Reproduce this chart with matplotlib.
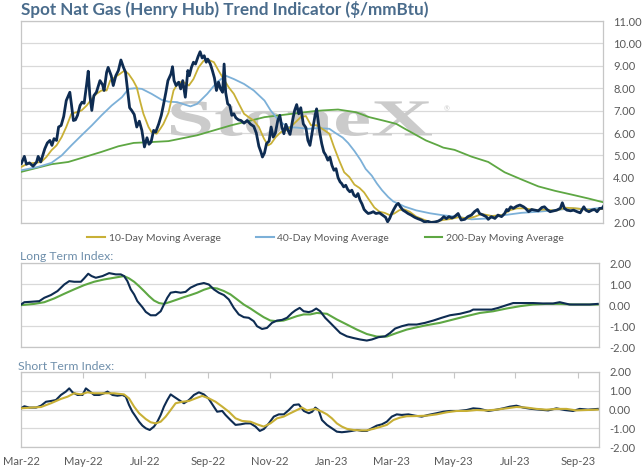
import numpy as np
import pandas as pd
import matplotlib
matplotlib.use("Agg")
import matplotlib.pyplot as plt
import matplotlib.dates as mdates
from matplotlib.ticker import FormatStrFormatter
from matplotlib.textpath import TextPath
from matplotlib.patches import PathPatch
from matplotlib.font_manager import FontProperties
from matplotlib.lines import Line2D
from matplotlib import transforms

plt.rcParams['font.family'] = ['Lato', 'DejaVu Sans']
plt.rcParams['axes.unicode_minus'] = False

# ---- data (days counted from 1 Mar 2022) ----
start = pd.Timestamp("2022-03-01")

spot_days = [0, 3, 5, 8, 11.5, 15, 16.5, 19, 23, 25.5, 28, 30, 32, 34.5, 36.5, 39, 41.5, 44, 47.5, 49,
             51, 53, 55, 57.5, 59.5, 61.5, 64, 65.5, 67, 69, 71, 73.5, 77, 79.5, 81, 83.5, 85, 88, 90, 92.5,
             95, 97.5, 100, 102, 104, 106, 108, 110.5, 113, 115.5, 118, 120.5, 123, 125, 127, 129.5, 131.5,
             134.5, 137, 139, 141.5, 143.5, 146.5, 148, 149.5, 151.5, 154, 156, 158, 160.5, 163, 164.5,
             166.5, 168.5, 170.5, 173, 175, 177, 179, 181, 182.5, 185, 187, 189, 191, 193, 195, 197, 198.5,
             200, 202, 204, 206, 208, 210, 212.5, 215, 218, 221, 224.5, 227.5, 230, 232.5, 234.5, 236, 238,
             240, 242.5, 244.5, 246.5, 248.5, 251, 253, 255, 257, 259, 261, 263, 265.5, 267.5, 269.5, 271.5,
             273.5, 276, 278.5, 280.5, 282.5, 285.5, 287.5, 289, 290.5, 292, 294, 296, 298, 300, 302, 304,
             306, 308, 310, 312, 313.5, 315.5, 317.5, 319.5, 321.5, 323.5, 325.5, 327.5, 329.5, 331.5, 333.5,
             335.5, 337.5, 339.5, 342, 344.5, 347, 350.5, 353.5, 356.5, 358.5, 360.5, 362.5, 364.5, 367, 369,
             371, 373.5, 376, 378.5, 381.5, 385, 388, 391.5, 394.5, 398, 401, 404.5, 408, 411, 413.5, 416,
             418.5, 421.5, 424, 427.5, 430.5, 434, 437, 440.5, 443.5, 446.5, 448.5, 452, 455, 457, 460, 463.5,
             466.5, 470, 473, 475, 476.5, 479, 481.5, 485, 488, 491.5, 493.5, 496.5, 499.5, 503, 506, 509.5,
             512, 514.5, 517.5, 521, 524, 527.5, 529.5, 531.5, 534, 537.5, 540.5, 544, 547, 550.5, 552.5,
             555.5, 558.5, 561, 563.5, 566, 568.5, 570.5]
spot_vals = [4.64, 4.96, 4.61, 4.67, 4.52, 4.71, 4.96, 4.71, 5.30, 5.56, 5.67, 5.45, 5.75, 5.67, 6.27, 6.34,
             6.74, 7.45, 7.82, 7.30, 6.56, 6.59, 6.79, 7.23, 7.38, 7.33, 8.19, 8.76, 7.72, 7.01, 7.67, 7.82,
             8.34, 8.16, 7.90, 8.71, 8.93, 8.56, 8.12, 8.56, 8.79, 9.26, 8.93, 8.71, 7.90, 7.13, 7.01, 6.83,
             6.27, 6.53, 6.12, 5.38, 5.79, 5.50, 5.60, 6.12, 6.04, 6.41, 6.79, 7.23, 7.82, 8.34, 8.64, 8.96,
             8.34, 8.12, 8.27, 7.97, 8.34, 7.60, 8.79, 8.56, 8.93, 9.16, 9.08, 9.41, 9.63, 9.35, 9.45, 9.16,
             9.30, 9.08, 8.79, 8.46, 7.90, 8.27, 7.97, 7.82, 9.08, 7.82, 7.30, 7.23, 6.79, 6.86, 6.68, 6.59,
             6.56, 6.44, 6.56, 6.39, 6.30, 6.00, 5.41, 5.16, 4.93, 5.11, 5.53, 5.64, 6.27, 5.82, 5.97, 6.56,
             6.79, 6.27, 5.97, 6.39, 6.12, 5.94, 6.56, 7.01, 7.27, 6.86, 7.13, 6.41, 6.24, 5.67, 5.45, 6.27,
             6.79, 7.08, 6.56, 6.04, 5.53, 5.16, 5.01, 4.79, 4.93, 4.56, 4.34, 4.41, 4.01, 3.82, 3.75, 3.60,
             3.67, 3.48, 3.38, 3.45, 3.23, 3.16, 3.30, 3.01, 2.83, 2.59, 2.49, 2.41, 2.44, 2.49, 2.41, 2.44,
             2.34, 2.24, 2.04, 2.19, 2.41, 2.59, 2.79, 2.86, 2.71, 2.56, 2.49, 2.41, 2.34, 2.24, 2.18, 2.12,
             2.04, 2.06, 2.01, 2.03, 2.07, 2.15, 2.27, 2.18, 2.27, 2.21, 2.27, 2.41, 2.12, 2.15, 2.27, 2.34,
             2.49, 2.59, 2.41, 2.34, 2.27, 2.15, 2.27, 2.19, 2.34, 2.27, 2.41, 2.59, 2.53, 2.71, 2.64, 2.74,
             2.79, 2.71, 2.64, 2.49, 2.59, 2.56, 2.53, 2.68, 2.71, 2.59, 2.49, 2.53, 2.56, 2.64, 2.89, 2.64,
             2.56, 2.53, 2.56, 2.49, 2.44, 2.71, 2.56, 2.49, 2.56, 2.59, 2.49, 2.64, 2.64, 2.79]

ma10_days = [0, 6.5, 13, 19.5, 24.5, 29.5, 34.5, 39.5, 44, 49, 54, 59, 64, 69, 73.5, 78.5, 83.5, 87, 91.5,
             96.5, 101, 105, 109.5, 113, 116.5, 119.5, 124.5, 127.5, 132.5, 136, 139, 144, 149, 154, 159,
             164, 168.5, 173.5, 178.5, 183.5, 188.5, 193, 198, 203, 208, 213, 218, 222.5, 227.5, 232.5,
             237.5, 241.5, 244.5, 249, 254, 259, 263.5, 268.5, 273.5, 278.5, 283.5, 289, 294.5, 301.5, 306,
             311, 316, 321, 326, 331, 335.5, 340.5, 345.5, 350.5, 355.5, 360.5, 365, 370, 375, 380, 386.5,
             393, 399.5, 406, 412.5, 419.5, 427.5, 437.5, 444, 450.5, 460.5, 470.5, 478.5, 485, 493, 503,
             513, 522.5, 532.5, 542.5, 552, 562, 570.5]
ma10_vals = [4.49, 4.64, 4.67, 4.71, 4.93, 5.23, 5.45, 5.82, 6.27, 6.86, 6.93, 7.01, 7.23, 7.53, 7.75, 7.90,
             7.90, 8.34, 8.49, 8.64, 8.79, 8.64, 8.34, 8.04, 7.38, 6.86, 6.27, 6.04, 5.97, 6.19, 6.40, 6.90,
             7.90, 8.27, 8.27, 8.12, 8.41, 8.93, 9.23, 9.26, 9.16, 8.79, 8.41, 8.04, 7.75, 7.30, 6.86, 6.71,
             6.56, 6.27, 5.75, 5.45, 5.53, 5.82, 6.04, 6.12, 6.27, 6.49, 6.71, 6.76, 6.35, 6.35, 6.19, 5.97,
             5.38, 4.79, 4.25, 4.04, 3.70, 3.55, 3.35, 3.01, 2.68, 2.49, 2.44, 2.34, 2.41, 2.56, 2.59, 2.49,
             2.27, 2.15, 2.04, 2.04, 2.12, 2.16, 2.24, 2.19, 2.27, 2.39, 2.30, 2.34, 2.56, 2.64, 2.64, 2.56,
             2.59, 2.53, 2.67, 2.64, 2.59, 2.56, 2.64]

ma40_days = [0, 16.5, 29.5, 39.5, 49, 59, 69, 78.5, 88.5, 98.5, 105, 111.5, 118, 127.5, 137.5, 144, 152.5,
             165.5, 172, 182, 191.5, 200, 208, 218, 227.5, 238, 244, 252, 260.5, 270.5, 280.5, 291.5, 301.5,
             307.5, 314.5, 320, 326, 332, 337, 343, 348, 353, 359, 364, 369, 375, 386.5, 400, 413, 429,
             440.5, 457, 473, 489.5, 506, 522.5, 538.5, 555, 570.5]
ma40_vals = [4.34, 4.49, 4.67, 5.00, 5.45, 5.90, 6.34, 6.79, 7.23, 7.60, 7.97, 8.00, 7.97, 7.75, 7.48, 7.40,
             7.38, 7.19, 7.30, 7.75, 8.27, 8.56, 8.41, 8.19, 7.90, 7.45, 7.01, 6.56, 6.27, 6.24, 6.19, 6.22,
             6.19, 6.00, 5.80, 5.55, 5.20, 4.80, 4.40, 4.10, 3.75, 3.45, 3.15, 2.95, 2.85, 2.72, 2.55, 2.42,
             2.33, 2.25, 2.15, 2.19, 2.34, 2.44, 2.49, 2.56, 2.64, 2.60, 2.68]

ma200_days = [0, 29.5, 46, 62, 78.5, 95, 110, 128, 144, 172, 205, 238, 270.5, 287, 295, 310, 327.5, 340.5,
              354, 367, 375, 396, 408, 413, 424, 440.5, 457, 473, 489.5, 506, 522.5, 539, 555, 570.5]
ma200_vals = [4.27, 4.61, 4.71, 4.93, 5.16, 5.41, 5.56, 5.60, 5.64, 5.90, 6.34, 6.71, 6.89, 6.98, 7.01,
              7.05, 6.93, 6.71, 6.56, 6.41, 6.20, 5.67, 5.45, 5.35, 5.25, 4.95, 4.71, 4.25, 3.93, 3.62,
              3.42, 3.25, 3.08, 2.90]

lt_days = [0, 3.3, 9.9, 18, 23, 29.5, 36, 42.6, 47.5, 52.4, 59, 62.2, 66.2, 69.5, 73.7, 80.3, 86.8, 93.4,
           98.3, 101.5, 104.8, 108.1, 111.4, 114.6, 119.6, 122.9, 127.7, 132.7, 137.6, 140.8, 144.1, 147.4,
           152.3, 157.2, 162.1, 167, 173.6, 180.1, 185, 189.9, 194.8, 199.8, 204.7, 209.6, 214.5, 219.4,
           224.3, 229.2, 232.5, 237.4, 242.3, 247.2, 252.2, 257.1, 262, 266.9, 270.2, 274.5, 278.4, 283.4,
           286.5, 290.8, 294.7, 299.6, 304.6, 309.5, 314.4, 321, 327.5, 334.1, 340.6, 345.5, 352.1, 358.6,
           363.5, 368.5, 375, 381.6, 389.8, 398, 406.1, 414.3, 422.5, 432.3, 442.2, 445.4, 455.3, 463.5,
           470, 478.2, 484.8, 494.6, 504.4, 514.2, 524.1, 530.6, 540.4, 550.3, 560.1, 568]
lt_vals = [0.03, 0.14, 0.16, 0.19, 0.35, 0.48, 0.67, 0.98, 1.14, 1.11, 1.11, 1.27, 1.49, 1.38, 1.30, 1.38,
           1.52, 1.46, 1.46, 1.38, 1.14, 0.75, 0.51, 0.19, -0.10, -0.32, -0.48, -0.48, -0.29, 0.03, 0.35,
           0.59, 0.63, 0.59, 0.63, 0.83, 0.98, 1.05, 0.98, 0.75, 0.59, 0.48, 0.27, -0.13, -0.44, -0.57,
           -0.60, -0.76, -1.00, -1.13, -1.08, -0.84, -0.73, -0.70, -0.60, -0.37, -0.25, -0.13, -0.29, -0.33,
           -0.29, -0.16, -0.29, -0.60, -0.84, -1.08, -1.32, -1.48, -1.56, -1.63, -1.68, -1.63, -1.52, -1.48,
           -1.32, -1.11, -1.00, -0.92, -0.92, -0.84, -0.73, -0.60, -0.48, -0.41, -0.29, -0.21, -0.21, -0.21,
           -0.13, 0.00, 0.10, 0.10, 0.10, 0.08, 0.08, 0.14, 0.03, 0.03, 0.03, 0.06]

lt_sig_days = [0, 13.1, 23, 32.8, 42.6, 52.4, 62.2, 72, 81.9, 91.7, 101.5, 106.4, 111.4, 116.3, 121.2,
               126.1, 131, 135.9, 140.8, 147.4, 154, 160.5, 167, 173.6, 180.1, 186.7, 193.2, 199.8, 206.3,
               212.9, 219.4, 226, 232.5, 239, 245.6, 252.2, 258.7, 265.3, 271.8, 278.4, 284.9, 291.4, 301.3,
               311.1, 321, 330.8, 340.6, 350.4, 360.3, 370.1, 379.9, 389.8, 399.6, 412.7, 425.8, 438.9, 452,
               465.1, 478.2, 491.3, 504.4, 517.5, 530.6, 543.7, 556.8, 568]
lt_sig_vals = [0.00, 0.06, 0.14, 0.32, 0.54, 0.75, 0.95, 1.11, 1.22, 1.30, 1.38, 1.27, 1.11, 0.90, 0.67,
               0.43, 0.22, 0.10, 0.06, 0.16, 0.27, 0.38, 0.48, 0.59, 0.73, 0.83, 0.79, 0.67, 0.51, 0.27,
               0.03, -0.16, -0.37, -0.57, -0.73, -0.76, -0.73, -0.63, -0.52, -0.44, -0.44, -0.37, -0.41,
               -0.68, -0.92, -1.16, -1.37, -1.49, -1.49, -1.32, -1.16, -1.05, -0.95, -0.84, -0.68, -0.52,
               -0.37, -0.29, -0.16, -0.05, 0.03, 0.06, 0.06, 0.03, 0.03, 0.03]

st_days = [0, 3.3, 8.2, 14.8, 19.7, 24.6, 29.5, 34.4, 39.3, 44.2, 47.5, 50.8, 55.7, 60.6, 63.9, 67.2, 72,
           77, 81.9, 85.2, 90.1, 95, 99.9, 103.2, 106.4, 109.7, 113, 116.3, 119.6, 122.9, 126.8, 131, 134.3,
           137.6, 140.8, 144.1, 147.4, 150.6, 155.6, 160.5, 165.4, 170.3, 175.2, 180.1, 185, 189.9, 193.2,
           198.2, 201.4, 206.3, 211.3, 216.2, 221.1, 226, 231, 235.2, 239.2, 244.1, 249, 253.9, 258.9, 263.8,
           268.7, 273.6, 278.6, 283.5, 286.8, 289.9, 293.1, 296.4, 301.3, 306.2, 311.1, 316, 321, 325.9,
           330.8, 335.7, 340.6, 345.5, 350.4, 355.4, 360.3, 365.2, 370.1, 375, 381.6, 388.1, 394.7, 401.2,
           409.4, 416, 422.5, 430.7, 438.9, 445.4, 452, 460.2, 468.4, 474.9, 481.5, 488, 494.6, 502.8, 511,
           519.2, 527.4, 535.6, 543.7, 550.3, 558.5, 568]
st_vals = [0.07, 0.18, 0.11, 0.11, 0.21, 0.42, 0.46, 0.51, 0.78, 0.96, 1.13, 0.92, 0.78, 0.78, 1.13, 0.99,
           0.78, 0.78, 0.87, 0.96, 0.78, 0.74, 0.78, 0.69, 0.25, -0.11, -0.37, -0.64, -0.85, -0.99, -1.08,
           -0.90, -0.64, -0.28, 0.16, 0.51, 0.81, 0.69, 0.51, 0.34, 0.51, 0.78, 0.92, 0.81, 0.57, 0.16,
           -0.11, -0.07, -0.28, -0.55, -0.81, -0.78, -0.73, -0.73, -0.90, -1.13, -1.03, -0.73, -0.37,
           -0.25, -0.25, -0.02, 0.25, 0.28, -0.07, -0.19, -0.11, 0.11, -0.02, -0.55, -0.81, -0.99, -1.17,
           -1.20, -1.17, -1.13, -1.08, -1.13, -1.13, -0.99, -0.85, -0.78, -0.64, -0.37, -0.25, -0.28, -0.25,
           -0.32, -0.37, -0.28, -0.19, -0.11, -0.07, -0.07, -0.02, 0.07, 0.04, -0.07, 0.00, 0.07, 0.16,
           0.21, 0.11, 0.04, 0.00, -0.04, 0.07, -0.02, -0.07, 0.04, 0.00, 0.04]

st_sig_days = [0, 9.9, 19.7, 29.5, 39.3, 45.9, 52.4, 59, 65.5, 72, 81.9, 91.7, 101.5, 106.4, 111.4, 116.3,
               122.9, 127.7, 132.7, 137.6, 142.5, 147.4, 152.3, 158.9, 165.4, 172, 178.5, 185, 191.6, 198.2,
               204.7, 211.3, 217.8, 226, 232.5, 239.1, 245.6, 252.2, 258.7, 265.3, 271.8, 276.8, 281.7,
               289.9, 296.4, 301.3, 306.2, 311.1, 316, 321, 327.5, 334.1, 340.6, 347.2, 353.7, 360.3, 366.8,
               373.4, 379.9, 389.8, 399.6, 409.4, 419.3, 429.1, 438.9, 448.8, 458.6, 468.4, 478.2, 488,
               497.9, 507.7, 517.5, 527.4, 537.2, 547, 556.8, 568]
st_sig_vals = [0.07, 0.11, 0.14, 0.34, 0.57, 0.69, 0.87, 0.81, 0.92, 0.87, 0.87, 0.87, 0.81, 0.60, 0.16,
               -0.19, -0.50, -0.67, -0.73, -0.64, -0.37, -0.02, 0.34, 0.42, 0.46, 0.60, 0.73, 0.60, 0.42,
               0.16, -0.11, -0.46, -0.60, -0.64, -0.78, -0.90, -0.73, -0.46, -0.37, -0.19, -0.02, 0.11,
               -0.04, 0.04, -0.11, -0.25, -0.46, -0.73, -0.90, -1.02, -1.08, -1.10, -1.10, -1.02, -0.92,
               -0.81, -0.55, -0.42, -0.35, -0.34, -0.32, -0.25, -0.14, -0.07, -0.07, -0.02, -0.04, 0.00,
               0.07, 0.14, 0.11, 0.04, 0.00, 0.04, 0.04, -0.04, -0.02, 0.00]

month_ticks = ["2022-03-01", "2022-05-01", "2022-07-01", "2022-09-01", "2022-11-01", "2023-01-01",
               "2023-03-01", "2023-05-01", "2023-07-01", "2023-09-01"]


def dates(days):
    return start + pd.to_timedelta(np.array(days), unit="D")


navy = "#0e2c52"
gold = "#c8b036"
blue = "#7cb0d8"
green = "#5ea743"
grid_c = "#d9d9d9"
txt_c = "#595959"

W, H = 643, 471
fig = plt.figure(figsize=(W / 100, H / 100), dpi=100)
ax1 = fig.add_axes([21.3 / W, 1 - 222.7 / H, 581.4 / W, 201.7 / H])
ax2 = fig.add_axes([21 / W, 1 - 347.3 / H, 577.7 / W, 84.3 / H])
ax3 = fig.add_axes([21 / W, 1 - 447.3 / H, 577.7 / W, 75.3 / H])

x0, x1 = start, start + pd.Timedelta(days=569)

for ax in (ax1, ax2, ax3):
    ax.set_xlim(x0, x1)
    for s in ax.spines.values():
        s.set_color("#c6c6c6")
        s.set_linewidth(0.9)
    ax.yaxis.tick_right()
    ax.grid(axis="y", color=grid_c, linewidth=0.9)
    ax.set_axisbelow(True)
    ax.tick_params(axis="y", length=0, pad=7.5, labelsize=8, labelcolor=txt_c)
    ax.yaxis.set_major_formatter(FormatStrFormatter("%.2f"))

ax1.set_ylim(2, 11)
ax1.set_yticks(np.arange(2, 12, 1))
ax1.set_xticks([])
for ax in (ax2, ax3):
    ax.set_ylim(-2, 2)
    ax.set_yticks([-2, -1, 0, 1, 2])
ax2.set_xticks([])

ax3.set_xticks(pd.to_datetime(month_ticks))
ax3.xaxis.set_major_formatter(mdates.DateFormatter("%b-%y"))
ax3.tick_params(axis="x", bottom=False, top=True, direction="in", length=4, color="#c6c6c6",
                labelbottom=True, labeltop=False, labelsize=8, labelcolor=txt_c, pad=6)

# watermark
fp = FontProperties(family="Liberation Serif", weight="bold")
tp = TextPath((0, 0), "StoneX", size=1, prop=fp)
bb = tp.get_extents()
tr = transforms.Affine2D().translate(-bb.x0, -bb.y0).scale(261 / bb.width, 35 / bb.height).translate(171, H - 136)
wm = PathPatch(tp, transform=tr, facecolor="#cbcbcb", edgecolor="none", zorder=1)
ax1.add_artist(wm)
fig.text(447 / W, 1 - 109 / H, "®", fontsize=5, color="#cbcbcb", ha="center", va="center")

# top panel lines
ax1.plot(dates(ma200_days), ma200_vals, color=green, lw=1.3, zorder=3)
ax1.plot(dates(ma40_days), ma40_vals, color=blue, lw=1.3, zorder=3)
ax1.plot(dates(ma10_days), ma10_vals, color=gold, lw=1.3, zorder=4)
ax1.plot(dates(spot_days), spot_vals, color=navy, lw=2.0, zorder=5)

ax2.plot(dates(lt_days), lt_vals, color=navy, lw=1.5, zorder=4)
ax2.plot(dates(lt_sig_days), lt_sig_vals, color=green, lw=1.5, zorder=3)

ax3.plot(dates(st_days), st_vals, color=navy, lw=1.5, zorder=3)
ax3.plot(dates(st_sig_days), st_sig_vals, color=gold, lw=1.5, zorder=4)

handles = [Line2D([], [], color=gold, lw=1.5), Line2D([], [], color=blue, lw=1.5),
           Line2D([], [], color=green, lw=1.5)]
labels = ["10-Day Moving Average", "40-Day Moving Average", "200-Day Moving Average"]
fig.legend(handles, labels, loc="center", bbox_to_anchor=(325.5 / W, 1 - 238 / H), ncol=3,
           frameon=False, fontsize=7.5, handlelength=1.7, handletextpad=0.35, columnspacing=3.4,
           labelcolor=txt_c, borderaxespad=0, borderpad=0)

fig.text(20.7 / W, 1 - 9 / H, "Spot Nat Gas (Henry Hub) Trend Indicator ($/mmBtu)", fontsize=12.3,
         fontweight="bold", color="#4a6c8c", ha="left", va="center")
fig.text(19.5 / W, 1 - 256.5 / H, "Long Term Index:", fontsize=8.8, color="#6f8fab", ha="left", va="center")
fig.text(18 / W, 1 - 366 / H, "Short Term Index:", fontsize=8.8, color="#6f8fab", ha="left", va="center")

fig.savefig("out.png", dpi=100)
